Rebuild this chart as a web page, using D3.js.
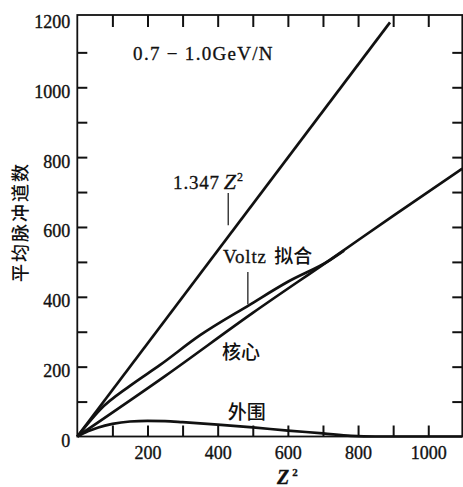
<!DOCTYPE html>
<html>
<head>
<meta charset="utf-8">
<script src="https://cdn.jsdelivr.net/npm/d3@7"></script>
<style>
  body { margin:0; background:#fff; }
  svg text { fill:#111; }
  .tick text { font-family:"Liberation Serif", serif; font-size:18px; stroke:#111; stroke-width:0.35px; }
  .axis .tick line { stroke:#111; stroke-width:2px; }
  .curve { fill:none; stroke:#111; stroke-width:2.7px; stroke-linejoin:round; }
  .lbl { font-family:"Liberation Serif","Noto Sans CJK SC", serif; font-size:19px; stroke:#111; stroke-width:0.3px; }
  .cjk { font-family:"Noto Sans CJK SC", sans-serif; font-size:19px; font-weight:500; }
</style>
</head>
<body>
<div id="chart-area"></div>
<script>
const W = 463, H = 487;

// x = Z^2, y = mean pulse channel
const xMajor = [200, 400, 600, 800, 1000];
const xMinor = [100, 200, 300, 400, 500, 600, 700, 800, 900, 1000];
const yMajor = [0, 200, 400, 600, 800, 1000, 1200];
const yMinor = [100, 200, 300, 400, 500, 600, 700, 800, 900, 1000, 1100];

// 1.347 Z^2
const fitZ2  = [0, 891];
const fitVal = [0, 1186];

// Voltz fit
const voltzZ2  = [0, 30, 64, 150, 236, 350, 491, 600, 720, 760];
const voltzVal = [0, 37, 76, 145, 205, 290, 377, 443, 505, 532];

// core
const coreZ2  = [0, 250, 500, 720, 900, 1097];
const coreVal = [0, 173, 354, 506, 632, 767];

// halo
const haloZ2  = [0, 30, 60, 100, 150, 200, 250, 300, 400, 500, 600, 700, 780, 850, 1097];
const haloVal = [0, 15, 26, 36, 43, 45, 44, 41, 34, 26, 17, 9, 2, 0, 0];

const margin = {top:15, right:0.7, bottom:50.5, left:77.3};
const width = W - margin.left - margin.right;
const height = H - margin.top - margin.bottom;

const svg = d3.select("#chart-area").append("svg")
    .attr("width", W)
    .attr("height", H);
const g = svg.append("g")
    .attr("transform", "translate(" + margin.left + "," + margin.top + ")");

var x = d3.scaleLinear().domain([0, 1097]).range([0, width]);
var y = d3.scaleLinear().domain([0, 1207]).range([height, 0]);

// frame axes, ticks pointing inward
g.append("g").attr("class","axis")
  .attr("transform","translate(0," + height + ")")
  .call(d3.axisBottom(x).tickValues(xMinor).tickSize(-11).tickPadding(10)
        .tickFormat(d => xMajor.includes(d) ? d : ""));
g.append("g").attr("class","axis")
  .call(d3.axisTop(x).tickValues(xMinor).tickSize(-12).tickFormat(""));
var yAxisL = g.append("g").attr("class","axis")
  .call(d3.axisLeft(y).tickValues(yMinor.concat([0,1200])).tickSize(-10).tickPadding(7)
        .tickFormat(d => yMajor.includes(d) ? d : ""));
g.append("g").attr("class","axis")
  .attr("transform","translate(" + width + ",0)")
  .call(d3.axisRight(y).tickValues(yMinor).tickSize(-10).tickFormat(""));

g.selectAll(".axis .domain").remove();
yAxisL.selectAll(".tick text").attr("dy","0.55em");
yAxisL.selectAll(".tick").filter(d => d == 0 || d == 1200).select("line").remove();

// frame
g.append("rect").attr("width", width).attr("height", height)
  .attr("fill","none").attr("stroke","#111").attr("stroke-width",1.8);

// curves
function series(xs, ys) { return xs.map((v,i) => [v, ys[i]]); }
var line = d3.line().x(d => x(d[0])).y(d => y(d[1])).curve(d3.curveMonotoneX);

[series(fitZ2, fitVal), series(coreZ2, coreVal), series(voltzZ2, voltzVal), series(haloZ2, haloVal)]
  .forEach(s => g.append("path").attr("class","curve").attr("d", line(s)));

// labels
g.append("text").attr("class","lbl")
  .attr("x", x(159)).attr("y", y(1098)).attr("dy","0.35em")
  .style("letter-spacing","1.3px")
  .text("0.7 − 1.0GeV/N");

var t = g.append("text").attr("class","lbl")
  .attr("x", x(273)).attr("y", y(729)).attr("dy","0.35em")
  .style("letter-spacing","0.8px");
t.append("tspan").text("1.347");
t.append("tspan").attr("dx","4").style("font-style","italic").style("font-size","22px").text("Z");
t.append("tspan").attr("dy","-8").style("font-size","12px").text("2");

g.append("line").attr("x1", x(430)).attr("x2", x(430)).attr("y1", y(697)).attr("y2", y(605))
  .attr("stroke","#111").attr("stroke-width",1.2);

var v = g.append("text").attr("x", x(415)).attr("y", y(514)).attr("dy","0.35em");
v.append("tspan").attr("class","lbl").style("letter-spacing","0.8px").text("Voltz ");
v.append("tspan").attr("class","cjk").attr("dx","2").text("拟合");

g.append("line").attr("x1", x(486)).attr("x2", x(486)).attr("y1", y(471)).attr("y2", y(379))
  .attr("stroke","#111").attr("stroke-width",1.2);

g.append("text").attr("class","cjk").attr("x", x(412)).attr("y", y(242)).attr("dy","0.35em").text("核心");
g.append("text").attr("class","cjk").attr("x", x(429)).attr("y", y(70)).attr("dy","0.35em").text("外围");

// axis titles
var xt = svg.append("text").attr("class","lbl")
  .attr("x", 277).attr("y", 484)
  .style("font-weight","bold");
xt.append("tspan").style("font-style","italic").style("font-size","20px").text("Z");
xt.append("tspan").attr("dx","3").attr("dy","-8").style("font-size","11px").text("2");

svg.append("text").attr("class","cjk")
  .attr("transform","translate(27,222) rotate(-90)")
  .attr("text-anchor","middle")
  .style("font-size","18px").style("letter-spacing","2px")
  .text("平均脉冲道数");
</script>
</body>
</html>
